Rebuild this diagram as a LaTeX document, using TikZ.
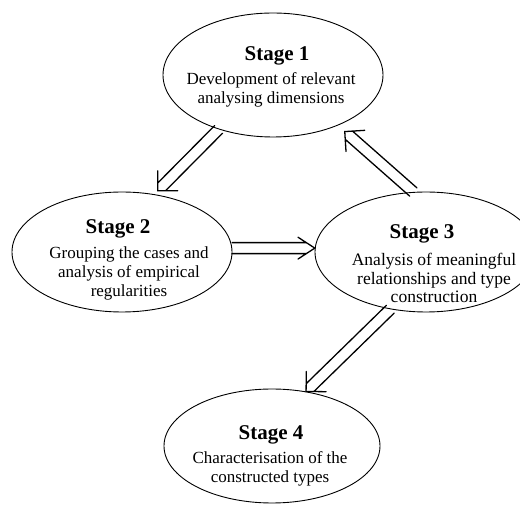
\documentclass[tikz,border=0pt]{standalone}
\usepackage{fontspec}
\setmainfont{Liberation Serif}
\usetikzlibrary{shapes.geometric,calc}
\def\hd{5.5}
\def\al{20}
\def\ha{45}
\tikzset{
  stagebox/.style={ellipse,draw,line width=0.9pt,inner sep=0pt},
  stagetitle/.style={anchor=base,inner sep=0pt,font=\fontsize{21}{24}\selectfont\bfseries},
  stagebody/.style={anchor=north,inner sep=0pt,align=center,font=\fontsize{17}{19}\selectfont},
  dblarrow/.style={line width=1.3pt,line cap=round,line join=miter,to path={
    let \p1=(\tikztostart), \p2=(\tikztotarget), \n1={atan2(\y2-\y1,\x2-\x1)},
        \n2={\hd/tan(\ha)} in
    ($(\p1)+({\n1+90}:\hd)$) -- ($(\p2)+({\n1+180}:\n2)+({\n1+90}:\hd)$)
    ($(\p1)+({\n1-90}:\hd)$) -- ($(\p2)+({\n1+180}:\n2)+({\n1-90}:\hd)$)
    ($(\p2)+({\n1+180-\ha}:\al)$) -- (\p2) -- ($(\p2)+({\n1+180+\ha}:\al)$)
  }}
}
\begin{document}
\begin{tikzpicture}[x=1pt,y=1pt]
\useasboundingbox (0,0) rectangle (520,506);
\node[stagebox,minimum width=220pt,minimum height=124pt] (s1) at (273,431) {};
\node[stagebox,minimum width=220pt,minimum height=120pt] (s2) at (122,254) {};
\node[stagebox,minimum width=222pt,minimum height=120pt] (s3) at (426,254) {};
\node[stagebox,minimum width=216pt,minimum height=114pt] (s4) at (272,60) {};

\node[stagetitle] (h1) at (277,445) {Stage 1};
\node[stagebody] (b1) at (271,434) {Development of relevant\\analysing dimensions};
\node[stagetitle] (h2) at (118,272) {Stage 2};
\node[stagebody] (b2) at (129,259) {Grouping the cases and\\analysis of empirical\\regularities};
\node[stagetitle] (h3) at (422,267) {Stage 3};
\node[stagebody,font=\fontsize{17.5}{18.5}\selectfont] (b3) at (434,253) {Analysis of meaningful\\relationships and type\\construction};
\node[stagetitle] (h4) at (271,66) {Stage 4};
\node[stagebody] (b4) at (270,55) {Characterisation of the\\constructed types};

\coordinate (t12) at ([yshift=4pt]s2.58);
\coordinate (t13) at ([shift={(7pt,-6pt)}]s1.-38);
\draw[dblarrow] (s1.225) to (t12);
\draw[dblarrow,/utils/exec={\def\ha{33}}] (s2.2) to (s3.178);
\draw[dblarrow] (s3.102) to (t13);
\draw[dblarrow] (s3.238) to (s4.58);
\end{tikzpicture}
\end{document}
